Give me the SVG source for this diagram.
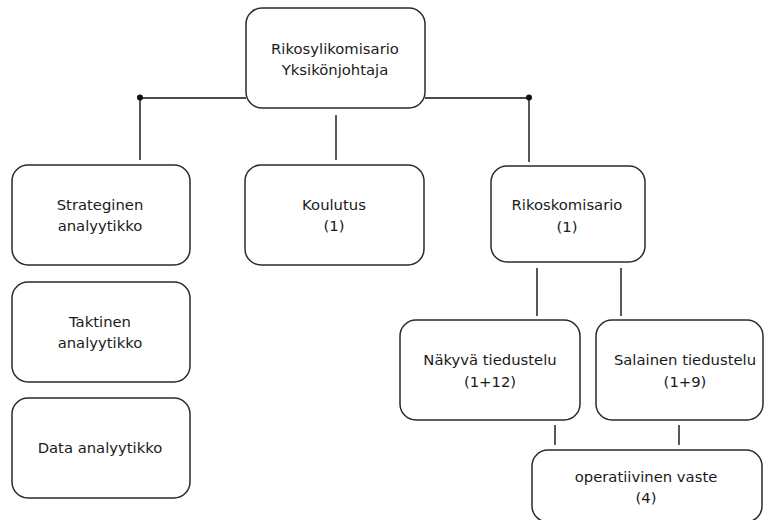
<svg xmlns="http://www.w3.org/2000/svg" width="765" height="520" viewBox="0 0 765 520">
<style>
.box{fill:#fff;stroke:#2a2a2a;stroke-width:1.5}
.t{font-family:"DejaVu Sans",Verdana,sans-serif;font-size:14.8px;fill:#1a1a1a;text-anchor:middle}
.c{stroke:#111;stroke-width:1.4;fill:none}
</style>
<rect width="765" height="520" fill="#fff"/>
<g id="connectors">
<path class="c" d="M140 98H246M425 98H529M140 98V160M529 98V162M336 115V160M537 268V316M621 268V316M555 425V445M679 425V445"/>
<circle cx="140" cy="97.5" r="3" fill="#111"/>
<circle cx="529" cy="97.5" r="3" fill="#111"/>
</g>
<g id="n-top"><rect class="box" x="246" y="8" width="179" height="100" rx="16"/><text class="t" x="335" y="54">Rikosylikomisario</text><text class="t" x="335" y="75">Yksikönjohtaja</text></g>
<g id="n-strat"><rect class="box" x="12" y="165" width="178" height="100" rx="16"/><text class="t" x="100" y="210">Strateginen</text><text class="t" x="100" y="231">analyytikko</text></g>
<g id="n-takt"><rect class="box" x="12" y="282" width="178" height="100" rx="16"/><text class="t" x="100" y="327">Taktinen</text><text class="t" x="100" y="348">analyytikko</text></g>
<g id="n-data"><rect class="box" x="12" y="398" width="178" height="100" rx="16"/><text class="t" x="100" y="453">Data analyytikko</text></g>
<g id="n-koul"><rect class="box" x="245" y="165" width="179" height="100" rx="16"/><text class="t" x="334" y="210">Koulutus</text><text class="t" x="334" y="231">(1)</text></g>
<g id="n-riko"><rect class="box" x="491" y="166" width="154" height="96" rx="16"/><text class="t" x="567" y="210">Rikoskomisario</text><text class="t" x="567" y="232">(1)</text></g>
<g id="n-nak"><rect class="box" x="400" y="320" width="180" height="100" rx="16"/><text class="t" x="490" y="365">Näkyvä tiedustelu</text><text class="t" x="490" y="387">(1+12)</text></g>
<g id="n-sal"><rect class="box" x="596" y="320" width="167" height="100" rx="16"/><text class="t" x="685" y="365">Salainen tiedustelu</text><text class="t" x="685" y="387">(1+9)</text></g>
<g id="n-oper"><rect class="box" x="532" y="450" width="230" height="72" rx="16"/><text class="t" x="646" y="482">operatiivinen vaste</text><text class="t" x="646" y="503">(4)</text></g>
</svg>
